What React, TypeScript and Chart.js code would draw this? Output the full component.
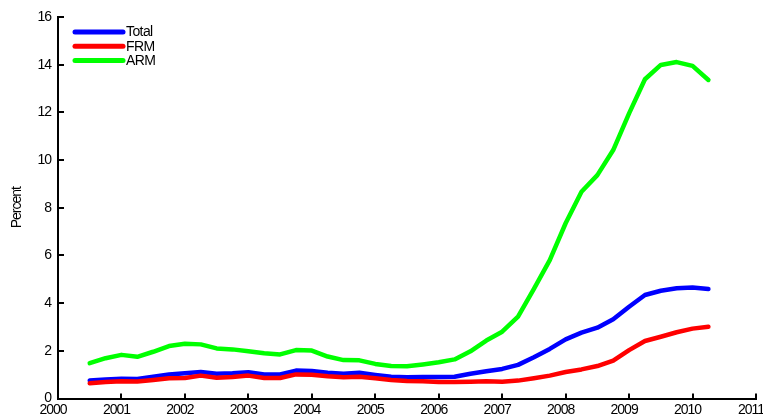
import React, { useEffect, useRef } from "react";
import { Chart, registerables } from "chart.js";

Chart.register(...registerables);

const quarters = [
  2000.5, 2000.75, 2001, 2001.25, 2001.5, 2001.75, 2002, 2002.25, 2002.5, 2002.75,
  2003, 2003.25, 2003.5, 2003.75, 2004, 2004.25, 2004.5, 2004.75, 2005, 2005.25,
  2005.5, 2005.75, 2006, 2006.25, 2006.5, 2006.75, 2007, 2007.25, 2007.5, 2007.75,
  2008, 2008.25, 2008.5, 2008.75, 2009, 2009.25, 2009.5, 2009.75, 2010, 2010.25,
];

const totalRate = [
  0.75, 0.8, 0.83, 0.82, 0.91, 1.01, 1.06, 1.11, 1.04, 1.06,
  1.1, 1.01, 1.01, 1.17, 1.15, 1.08, 1.04, 1.08, 0.99, 0.91,
  0.89, 0.9, 0.9, 0.91, 1.04, 1.14, 1.24, 1.41, 1.73, 2.08,
  2.48, 2.76, 2.97, 3.32, 3.85, 4.34, 4.52, 4.62, 4.66, 4.59,
];

const frmRate = [
  0.64, 0.69, 0.72, 0.71, 0.78, 0.85, 0.86, 0.96, 0.87, 0.9,
  0.96, 0.86, 0.86, 1.01, 1.0, 0.93, 0.89, 0.91, 0.85, 0.78,
  0.73, 0.72, 0.69, 0.69, 0.7, 0.72, 0.7, 0.75, 0.85, 0.96,
  1.11, 1.22, 1.36, 1.59, 2.03, 2.41, 2.59, 2.78, 2.93, 3.01,
];

const armRate = [
  1.48, 1.69, 1.83, 1.75, 1.96, 2.2, 2.3, 2.27, 2.1, 2.06,
  1.98, 1.9, 1.85, 2.03, 2.01, 1.76, 1.61, 1.6, 1.45, 1.36,
  1.35, 1.43, 1.52, 1.64, 1.98, 2.43, 2.8, 3.43, 4.6, 5.8,
  7.35, 8.67, 9.37, 10.42, 11.96, 13.39, 13.99, 14.11, 13.95, 13.36,
];

const seriesNames = ["Total", "FRM", "ARM"];
const seriesColors = ["#0000ff", "#ff0000", "#00ff00"];
const xMin = 2000;
const xMax = 2011;
const yMin = 0;
const yMax = 16;
const yStep = 2;
const yTitle = "Percent";

const TEXT_FONT = "'Liberation Sans', Arial, sans-serif";

const condensedText = {
  id: "condensedText",
  beforeDraw(chart: any) {
    try {
      chart.ctx.letterSpacing = "-1px";
    } catch (e) {}
  },
};

const inwardTicks = {
  id: "inwardTicks",
  afterDraw(chart: any) {
    const ctx = chart.ctx;
    const area = chart.chartArea;
    const xs = chart.scales.x;
    const ys = chart.scales.y;
    ctx.save();
    ctx.strokeStyle = "#000";
    ctx.lineWidth = 2;
    ctx.beginPath();
    xs.ticks.forEach((t: any) => {
      const px = Math.round(xs.getPixelForValue(t.value));
      ctx.moveTo(px, area.bottom);
      ctx.lineTo(px, area.bottom - 5);
    });
    ys.ticks.forEach((t: any) => {
      const py = Math.round(ys.getPixelForValue(t.value));
      ctx.moveTo(area.left, py);
      ctx.lineTo(area.left + 6, py);
    });
    ctx.stroke();
    ctx.restore();
  },
};

const customLegend = {
  id: "customLegend",
  afterDraw(chart: any) {
    const ctx = chart.ctx;
    const area = chart.chartArea;
    ctx.save();
    try {
      ctx.letterSpacing = "-0.6px";
    } catch (e) {}
    ctx.font = `14px ${TEXT_FONT}`;
    ctx.textBaseline = "middle";
    ctx.textAlign = "left";
    chart.data.datasets.forEach((ds: any, i: number) => {
      const y = area.top + 15 + i * 14.3;
      const x0 = area.left + 17;
      ctx.strokeStyle = ds.borderColor;
      ctx.lineWidth = 5;
      ctx.lineCap = "round";
      ctx.beginPath();
      ctx.moveTo(x0, y);
      ctx.lineTo(x0 + 48, y);
      ctx.stroke();
      ctx.fillStyle = "#000";
      ctx.fillText(ds.label, x0 + 51, y + 0.5);
    });
    ctx.restore();
  },
};

export default function App() {
  const canvasRef = useRef<HTMLCanvasElement | null>(null);

  useEffect(() => {
    const canvas = canvasRef.current;
    if (!canvas) return;
    const series = [totalRate, frmRate, armRate];
    const chart = new Chart(canvas, {
      type: "line",
      data: {
        datasets: series.map((vals, i) => ({
          label: seriesNames[i],
          data: vals.map((v, j) => ({ x: quarters[j], y: v })),
          borderColor: seriesColors[i],
          backgroundColor: seriesColors[i],
          borderWidth: 4.5,
          pointRadius: 0,
          tension: 0,
          fill: false,
          borderJoinStyle: "round" as const,
          borderCapStyle: "round" as const,
          order: 3 - i,
        })),
      },
      options: {
        responsive: false,
        animation: false,
        layout: { padding: { left: 0, right: 7, top: 17, bottom: 0 } },
        plugins: {
          legend: { display: false },
          tooltip: { enabled: false },
        },
        scales: {
          x: {
            type: "linear",
            min: xMin,
            max: xMax,
            grid: { display: false, drawTicks: false },
            border: { display: true, color: "#000", width: 2 },
            ticks: {
              stepSize: 1,
              color: "#000",
              font: { family: TEXT_FONT, size: 14 },
              padding: 3,
              labelOffset: -5,
              maxRotation: 0,
              autoSkip: false,
              callback: (v: any) => String(v),
            },
            afterFit: (scale: any) => {
              scale.height = 15.5;
              scale.paddingLeft = 0;
              scale.paddingRight = 0;
            },
          },
          y: {
            type: "linear",
            min: yMin,
            max: yMax,
            grid: { display: false, drawTicks: false },
            border: { display: true, color: "#000", width: 2 },
            ticks: {
              stepSize: yStep,
              color: "#000",
              font: { family: TEXT_FONT, size: 14 },
              padding: 7,
              callback: (v: any) => String(v),
            },
            title: {
              display: true,
              text: yTitle,
              color: "#000",
              font: { family: TEXT_FONT, size: 14 },
              padding: { top: 9, bottom: 0 },
            },
            afterFit: (scale: any) => {
              scale.width = 58;
              scale.paddingTop = 0;
              scale.paddingBottom = 0;
            },
          },
        },
      },
      plugins: [condensedText, inwardTicks, customLegend],
    });
    return () => chart.destroy();
  }, []);

  return (
    <div style={{ position: "absolute", left: 0, top: 0, width: 763, height: 414, background: "#fff" }}>
      <canvas ref={canvasRef} width={763} height={414} style={{ display: "block" }} />
    </div>
  );
}
